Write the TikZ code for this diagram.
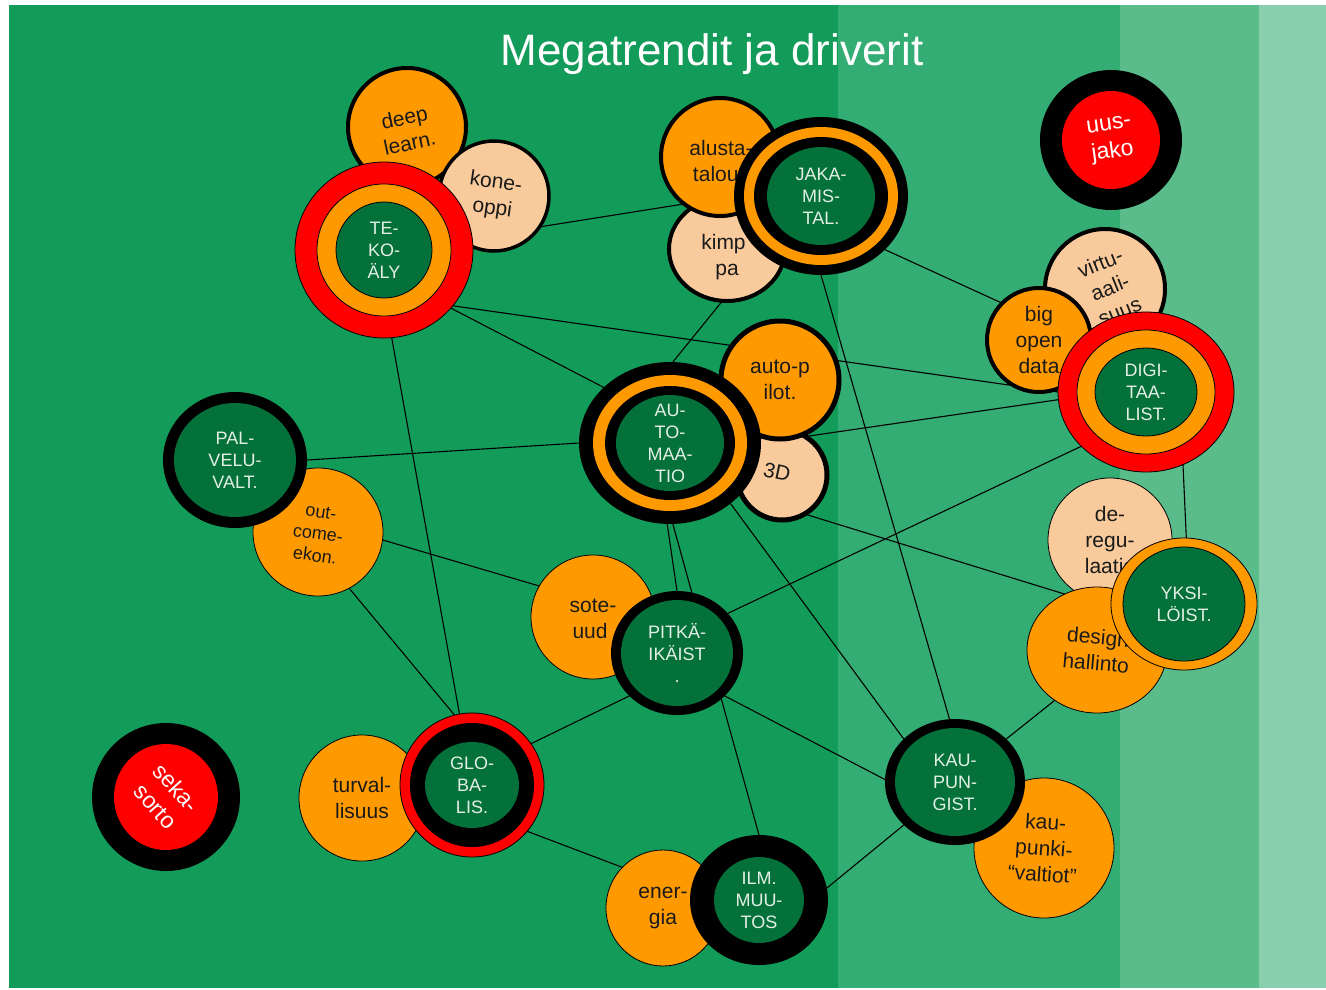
\documentclass[tikz,border=0pt]{standalone}
\usepackage{fontspec}
\setmainfont{Liberation Sans}
\usetikzlibrary{shapes.geometric}
\definecolor{bgA}{HTML}{139C59}
\definecolor{bgB}{HTML}{33AD73}
\definecolor{bgC}{HTML}{5ABC8B}
\definecolor{bgD}{HTML}{88CFAE}
\definecolor{org}{HTML}{FF9900}
\definecolor{peach}{HTML}{F9CB9C}
\definecolor{rd}{HTML}{FF0000}
\definecolor{dg}{HTML}{04703A}
\definecolor{ink}{HTML}{1A1A1A}
\definecolor{pale}{HTML}{E4F0E6}
\pgfdeclarelayer{bglayer}
\pgfdeclarelayer{linelayer}
\pgfsetlayers{bglayer,linelayer,main}
\begin{document}
\begin{tikzpicture}[x=1pt,y=-1pt,
  blob/.style={ellipse, inner sep=0pt, outer sep=0pt},
  sz/.style 2 args={minimum width=#1pt*2, minimum height=#2pt*2},
  hair/.style={draw=black, line width=0.8pt},
  heavy/.style={draw=black, line width=4pt},
  lbl/.style={inner sep=0pt, outer sep=0pt, align=center},
  otext/.style={lbl, font=\fontsize{21}{26}\selectfont, text=ink},
  gtext/.style={lbl, font=\fontsize{18}{22}\selectfont, text=pale},
  wtext/.style={lbl, font=\fontsize{23}{28}\selectfont, text=white},
  link/.style={draw=black, line width=1.1pt},
]
\useasboundingbox (0,0) rectangle (1326,989);
\begin{pgfonlayer}{bglayer}
\fill[white] (0,0) rectangle (1326,989);
\fill[bgA] (9,5) rectangle (838,988);
\fill[bgB] (838,5) rectangle (1120,988);
\fill[bgC] (1120,5) rectangle (1259,988);
\fill[bgD] (1259,5) rectangle (1326,988);
\end{pgfonlayer}

\node[lbl, font=\fontsize{44}{50}\selectfont, text=white, anchor=base] (title) at (712,65) {Megatrendit ja driverit};

% TE-KO-ALY cluster
\node[blob, sz={59}{59}, heavy, fill=org] (deep) at (407,127) {};
\node[otext, rotate=12] (deep-t) at (407,130) {deep\\learn.};
\node[blob, sz={55}{55}, heavy, line width=3.5pt, fill=peach] (kone) at (494,196) {};
\node[otext, rotate=-8] (kone-t) at (kone) {kone-\\oppi};
\node[blob, sz={89}{88}, hair, fill=rd] (te) at (384,250) {};
\node[blob, sz={67}{66}, hair, fill=org] (te2) at (te) {};
\node[blob, sz={48}{48}, hair, fill=dg] (te3) at (te) {};
\node[gtext] (te-t) at (te) {TE-\\KO-\\ÄLY};

% JAKAMISTALOUS cluster
\node[blob, sz={58}{52}, heavy, fill=peach] (kimppa) at (727,249) {};
\node[otext] (kimppa-t) at (727,257) {kimp\phantom{-}\\pa};
\node[blob, sz={59}{59}, heavy, fill=org] (alusta) at (720,157) {};
\node[otext] (alusta-t) at (721,161) {alusta-\\talous};
\node[blob, sz={87}{79}, fill=black] (jaka) at (821,196) {};
\node[blob, sz={77}{69}, fill=org] (jaka2) at (jaka) {};
\node[blob, sz={67}{59}, fill=black] (jaka3) at (jaka) {};
\node[blob, sz={54}{49}, fill=dg] (jaka4) at (jaka) {};
\node[gtext] (jaka-t) at (jaka) {JAKA-\\MIS-\\TAL.};

% uusjako
\node[blob, sz={71}{70}, fill=black] (uus) at (1111,140) {};
\node[blob, sz={49}{49}, fill=rd] (uus2) at (uus) {};
\node[wtext, rotate=8] (uus-t) at (uus) {uus-\\jako};

% DIGITAALISTUMINEN cluster
\node[blob, sz={60}{60}, heavy, fill=peach] (virtu) at (1105,289) {};
\node[otext, rotate=22] (virtu-t) at (1110,287) {virtu-\\aali-\\suus};
\node[blob, sz={52}{52}, heavy, fill=org] (big) at (1039,340) {};
\node[otext] (big-t) at (big) {big\\open\\data};
\node[blob, sz={88}{80}, hair, fill=rd] (digi) at (1146,392) {};
\node[blob, sz={69}{62}, hair, fill=org] (digi2) at (digi) {};
\node[blob, sz={51}{44}, hair, fill=dg] (digi3) at (digi) {};
\node[gtext] (digi-t) at (digi) {DIGI-\\TAA-\\LIST.};

% AUTOMAATIO cluster
\node[blob, sz={45}{45}, heavy, line width=5pt, fill=peach] (threed) at (782,475) {};
\node[otext, rotate=-12] (threed-t) at (777,472) {3D};
\node[blob, sz={59}{59}, heavy, line width=5pt, fill=org] (autop) at (780,380) {};
\node[otext] (autop-t) at (autop) {auto-p\\ilot.};
\node[blob, sz={91}{81}, fill=black] (au) at (670,443) {};
\node[blob, sz={77}{68}, fill=org] (au2) at (au) {};
\node[blob, sz={65}{57}, fill=black] (au3) at (au) {};
\node[blob, sz={54}{48}, fill=dg] (au4) at (au) {};
\node[gtext] (au-t) at (au) {AU-\\TO-\\MAA-\\TIO};

% PALVELUVALTIO cluster
\node[blob, sz={65}{64}, hair, fill=org] (outcome) at (318,532) {};
\node[lbl, font=\fontsize{18}{22}\selectfont, text=ink, rotate=-8] (outcome-t) at (318,534) {out-\\come-\\ekon.};
\node[blob, sz={72}{68}, fill=black] (pal) at (235,460) {};
\node[blob, sz={61}{57}, fill=dg] (pal2) at (pal) {};
\node[gtext] (pal-t) at (pal) {PAL-\\VELU-\\VALT.};

% PITKAIKAISTYMINEN cluster
\node[blob, sz={62}{62}, hair, fill=org] (sote) at (593,617) {};
\node[otext] (sote-t) at (593,619) {sote-\\uud\phantom{.}};
\node[blob, sz={66}{62}, fill=black] (pitka) at (677,653) {};
\node[blob, sz={56}{53}, fill=dg] (pitka2) at (pitka) {};
\node[gtext] (pitka-t) at (pitka) {PITKÄ-\\IKÄIST\\.};

% YKSILOISTYMINEN cluster
\node[blob, sz={62}{62}, hair, fill=peach] (dereg) at (1110,540) {};
\node[otext] (dereg-t) at (dereg) {de-\\regu-\\laatio};
\node[blob, sz={70}{63}, hair, fill=org] (design) at (1097,650) {};
\node[otext, rotate=-5] (design-t) at (design) {design\\hallinto};
\node[blob, sz={73}{66}, hair, fill=org] (yksi) at (1184,604) {};
\node[blob, sz={61}{57}, hair, fill=dg] (yksi2) at (yksi) {};
\node[gtext] (yksi-t) at (yksi) {YKSI-\\LÖIST.};

% KAUPUNGISTUMINEN cluster
\node[blob, sz={70}{70}, hair, fill=org] (kaup) at (1044,848) {};
\node[otext, rotate=-4] (kaup-t) at (kaup) {kau-\\punki-\\“valtiot”};
\node[blob, sz={70}{63}, fill=black] (kau) at (955,782) {};
\node[blob, sz={60}{54}, fill=dg] (kau2) at (kau) {};
\node[gtext] (kau-t) at (kau) {KAU-\\PUN-\\GIST.};

% GLOBALISAATIO cluster
\node[blob, sz={63}{63}, hair, fill=org] (turval) at (362,798) {};
\node[otext] (turval-t) at (turval) {turval-\\lisuus};
\node[blob, sz={72}{72}, hair, fill=rd] (glo) at (472,785) {};
\node[blob, sz={62}{62}, fill=black] (glo2) at (glo) {};
\node[blob, sz={47}{43}, fill=dg] (glo3) at (glo) {};
\node[gtext] (glo-t) at (glo) {GLO-\\BA-\\LIS.};

% ILMASTONMUUTOS cluster
\node[blob, sz={57}{58}, hair, fill=org] (energia) at (663,908) {};
\node[otext] (energia-t) at (energia) {ener-\\gia};
\node[blob, sz={69}{65}, fill=black] (ilm) at (759,900) {};
\node[blob, sz={45}{43}, fill=dg] (ilm2) at (ilm) {};
\node[gtext] (ilm-t) at (ilm) {ILM.\\MUU-\\TOS};

% sekasorto
\node[blob, sz={74}{74}, fill=black] (seka) at (166,797) {};
\node[blob, sz={52}{53}, fill=rd] (seka2) at (seka) {};
\node[wtext, rotate=-48] (seka-t) at (seka) {seka-\\sorto};

\begin{pgfonlayer}{linelayer}
\draw[link] (te.8) -- (jaka.180);
\draw[link] (te.-41) -- (au.140);
\draw[link] (te.-39) -- (digi.180);
\draw[link] (te.-85) -- (glo.100);
\draw[link] (kimppa.-95) -- (au.88);
\draw[link] (jaka.-40) -- (big.135);
\draw[link] (jaka.-90) -- (kau.95);
\draw[link] (au.0) -- (digi.185);
\draw[link] (pal.0) -- (au.180);
\draw[link] (outcome.-7) -- (sote.150);
\draw[link] (outcome.-61) -- (glo.104);
\draw[link] (au.-92) -- (pitka.90);
\draw[link] (au.-88) -- (ilm.90);
\draw[link] (au.-45) -- (kau.140);
\draw[link] (threed.-60) -- (design.120);
\draw[link] (digi.220) -- (pitka.38);
\draw[link] (digi.-63) -- (yksi.88);
\draw[link] (pitka.222) -- (glo.35);
\draw[link] (pitka.-42) -- (kau.178);
\draw[link] (glo.-40) -- (energia.135);
\draw[link] (kau.40) -- (design.-130);
\draw[link] (kau.-140) -- (ilm.10);
\end{pgfonlayer}
\end{tikzpicture}
\end{document}
